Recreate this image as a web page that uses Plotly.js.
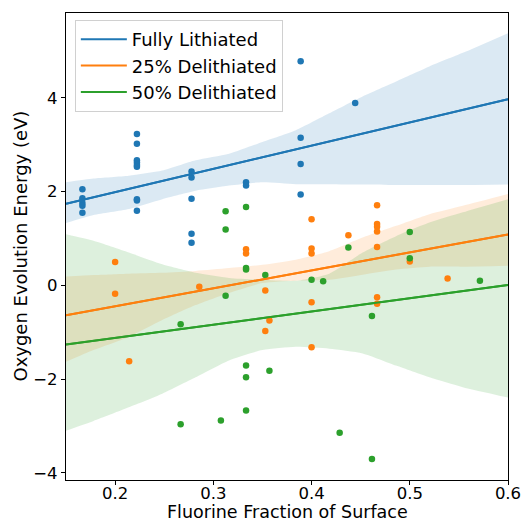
<!DOCTYPE html>
<html>
<head>
<meta charset="utf-8">
<script src="https://cdn.plot.ly/plotly-3.0.1.min.js"></script>
<style>html,body{margin:0;padding:0;background:#fff;}#chart{width:523px;height:521px;}</style>
</head>
<body>
<div id="chart"></div>
<script>
// ---- data ----
const seriesNames = ["Fully Lithiated", "25% Delithiated", "50% Delithiated"];

const fullX = [0.1667,0.1667,0.1667,0.1667,0.1667,
  0.2222,0.2222,0.2222,0.2222,0.2222,0.2222,0.2222,0.2222,0.2222,
  0.2778,0.2778,0.2778,0.2778,0.2778,
  0.3333,0.3333,
  0.3889,0.3889,0.3889,0.3889,
  0.4444];
const fullY = [2.05,1.86,1.76,1.70,1.55,
  3.23,3.02,2.67,2.62,2.57,2.53,1.84,1.81,1.59,
  2.43,2.30,1.85,1.10,0.91,
  2.20,2.13,
  4.78,3.15,2.59,1.94,
  3.89];

const d25X = [0.2,0.2,0.2143,0.2857,0.3333,0.3333,0.3529,0.3529,0.3571,
  0.4,0.4,0.4,0.4,0.4,0.4375,
  0.4667,0.4667,0.4667,0.4667,0.4667,0.4667,0.4667,0.5,0.5385];
const d25Y = [0.50,-0.18,-1.62,-0.03,0.77,0.68,-0.11,-0.97,-0.75,
  1.41,0.79,0.68,-0.36,-1.32,1.07,
  1.71,1.31,1.25,1.15,0.82,-0.25,-0.39,0.51,0.15];

const d50X = [0.2667,0.2667,0.3077,0.3125,0.3125,0.3125,
  0.3333,0.3333,0.3333,0.3333,0.3333,0.3333,
  0.3529,0.3571,0.4,0.4118,0.4286,0.4375,0.4615,0.4615,0.5,0.5,0.5714];
const d50Y = [-0.83,-2.96,-2.88,1.58,1.19,-0.22,
  1.67,0.37,0.34,-1.71,-1.96,-2.67,
  0.22,-1.82,0.12,0.09,-3.14,0.81,-0.65,-3.70,1.14,0.58,0.10];

// confidence band edges (bootstrap bands)
const bandX = [0.15,0.178,0.214,0.248,0.282,0.316,0.35,0.384,0.418,0.452,0.486,0.52,0.554,0.6];
const fullUpper = [2.20,2.28,2.34,2.45,2.67,2.81,3.06,3.31,3.67,4.03,4.35,4.67,4.96,5.38];
const fullLower = [1.33,1.50,1.63,1.84,2.02,2.13,2.20,2.16,2.16,2.15,2.14,2.14,2.14,2.15];
const d25Upper = [0.19,0.22,0.25,0.27,0.31,0.37,0.44,0.55,0.73,1.02,1.27,1.52,1.70,1.95];
const d25Lower = [-1.63,-1.38,-1.10,-0.74,-0.42,-0.16,0.05,0.10,0.12,0.23,0.34,0.40,0.40,0.42];
const d50Upper = [1.09,0.95,0.70,0.45,0.27,0.16,0.12,0.10,0.25,0.70,1.05,1.34,1.56,1.84];
const d50Lower = [-3.10,-2.89,-2.60,-2.31,-1.96,-1.60,-1.38,-1.31,-1.35,-1.45,-1.71,-1.96,-2.17,-2.39];

const xTicks = [0.2,0.3,0.4,0.5,0.6];
const yTicks = [-4,-2,0,2,4];
const xTitle = 'Fluorine Fraction of Surface';
const yTitle = 'Oxygen Evolution Energy (eV)';

// ---- styling ----
const colors = ["#1f77b4","#ff7f0e","#2ca02c"];
const fills = ["rgba(31,119,180,0.16)","rgba(255,127,14,0.15)","rgba(44,160,44,0.16)"];
const xRange = [0.15, 0.6];

function fit(xs, ys){
  const n = xs.length;
  const mx = xs.reduce((a,b)=>a+b,0)/n, my = ys.reduce((a,b)=>a+b,0)/n;
  let sxy=0, sxx=0;
  for(let i=0;i<n;i++){ sxy += (xs[i]-mx)*(ys[i]-my); sxx += (xs[i]-mx)*(xs[i]-mx); }
  const b = sxy/sxx, a = my - b*mx;
  return x => a + b*x;
}

const sets = [
  {x: fullX, y: fullY, up: fullUpper, lo: fullLower},
  {x: d25X, y: d25Y, up: d25Upper, lo: d25Lower},
  {x: d50X, y: d50Y, up: d50Upper, lo: d50Lower}
];

const traces = [];
// regression lines first (legend order)
sets.forEach((s,i)=>{
  const f = fit(s.x, s.y);
  traces.push({x: xRange, y: xRange.map(f), mode:'lines', type:'scatter',
    line:{color: colors[i], width:2}, name: seriesNames[i], hoverinfo:'skip'});
});
// bands
sets.forEach((s,i)=>{
  traces.push({x: bandX, y: s.lo, mode:'lines', line:{width:0, shape:'spline', smoothing:0.6},
    showlegend:false, hoverinfo:'skip', type:'scatter'});
  traces.push({x: bandX, y: s.up, mode:'lines', line:{width:0, shape:'spline', smoothing:0.6},
    fill:'tonexty', fillcolor: fills[i], showlegend:false, hoverinfo:'skip', type:'scatter'});
});
// points
sets.forEach((s,i)=>{
  traces.push({x: s.x, y: s.y, mode:'markers', type:'scatter',
    marker:{color: colors[i], size:6.5, line:{width:0}}, showlegend:false, hoverinfo:'skip'});
});
// redraw regression lines on top (no legend)
sets.forEach((s,i)=>{
  const f = fit(s.x, s.y);
  traces.push({x: xRange, y: xRange.map(f), mode:'lines', type:'scatter',
    line:{color: colors[i], width:2}, showlegend:false, hoverinfo:'skip'});
});

const font = {family:'"DejaVu Sans", sans-serif', color:'#000'};
const layout = {
  width:523, height:521,
  margin:{l:66, r:15, t:13, b:41},
  paper_bgcolor:'#fff', plot_bgcolor:'#fff',
  font: Object.assign({size:17}, font),
  showlegend:true,
  legend:{x:0.02, y:0.985, xanchor:'left', yanchor:'top', traceorder:'normal',
    bgcolor:'rgba(255,255,255,0.85)', bordercolor:'#d0d0d0', borderwidth:1,
    itemwidth:46,
    font: Object.assign({size:18}, font), tracegroupgap:0},
  xaxis:{range:xRange, tickvals:xTicks, ticktext:xTicks.map(v=>v.toFixed(1)),
    showgrid:false, zeroline:false, showline:true, linecolor:'#000', linewidth:1.2, mirror:true,
    ticks:'outside', ticklen:4, tickcolor:'#000', ticklabelstandoff:-6,
    tickfont:Object.assign({size:16.5}, font)},
  yaxis:{range:[-4.15, 5.81], tickvals:yTicks,
    showgrid:false, zeroline:false, showline:true, linecolor:'#000', linewidth:1.2, mirror:true,
    ticks:'outside', ticklen:4, tickcolor:'#000', tickfont:Object.assign({size:16.5}, font)},
  annotations:[
    {text:xTitle, xref:'paper', yref:'paper', x:0.5, y:-0.069, xanchor:'center', yanchor:'middle',
      showarrow:false, font:Object.assign({size:17.5}, font)},
    {text:yTitle, xref:'paper', yref:'paper', x:-0.104, y:0.5, xanchor:'center', yanchor:'middle',
      textangle:-90, showarrow:false, font:Object.assign({size:18}, font)}
  ]
};

Plotly.newPlot('chart', traces, layout, {displayModeBar:false, staticPlot:true});
</script>
</body>
</html>
